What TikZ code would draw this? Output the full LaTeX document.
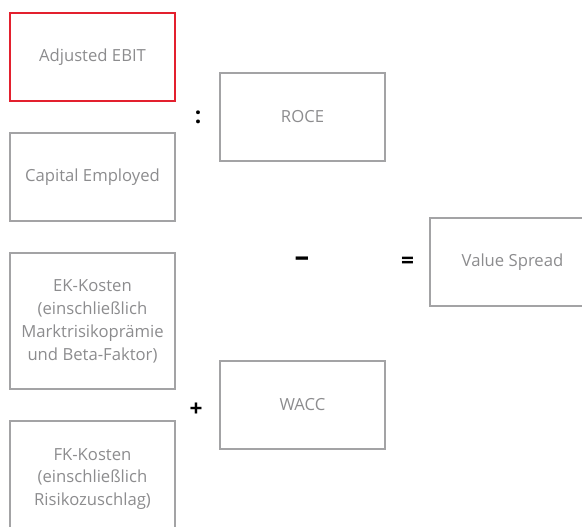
\documentclass[tikz,border=0pt]{standalone}
\usepackage{fontspec}
\setmainfont{Open Sans}
\usetikzlibrary{positioning,calc}
\definecolor{boxgrey}{HTML}{A3A3A5}
\definecolor{textgrey}{HTML}{8C8C8E}
\definecolor{keyred}{HTML}{E3202E}

\begin{document}
\begin{tikzpicture}[
    x=0.75pt, y=-0.75pt,
    node distance=24pt and 33.75pt,
    box/.style={rectangle, draw=boxgrey, line width=1.5pt, minimum width=123.75pt,
                minimum height=66pt, align=center, text=textgrey,
                font=\fontsize{12.5}{17.2}\selectfont, inner sep=2pt, outer sep=0pt},
    tallbox/.style={box, minimum height=102pt},
    op/.style={font=\fontsize{17}{17}\selectfont\bfseries, text=black, inner sep=0pt},
]
\useasboundingbox (0,0) rectangle (582,527);
\clip (0,0) rectangle (582,527);

% left column: the inputs
\node[box, draw=keyred] (ebit) at (92.5,57) {Adjusted EBIT};
\node[box, below=of ebit] (capital) {Capital Employed};
\node[tallbox, below=of capital] (ekcost) {EK-Kosten\\(einschließlich\\Marktrisikoprämie\\und Beta-Faktor)};
\node[box, below=of ekcost, minimum height=87pt] (fkcost) {FK-Kosten\\(einschließlich\\Risikozuschlag)};

% middle column: the two rates
\coordinate (roceref) at ($(ebit.south east)!0.5!(capital.north east)$);
\node[box, right=of roceref, anchor=west] (roce) {ROCE};
\coordinate (waccref) at ($(ekcost.south east)!0.5!(fkcost.north east)$);
\node[box, right=of waccref, anchor=west] (wacc) {WACC};

% right: the result
\node[box, anchor=west] (spread) at (430,262.5) {Value Spread};

% operators between the boxes
\node[op] (divide) at (198,117) {:};
\node[op] (plus) at (196,410) {+};
\node[op, font=\fontsize{22}{22}\selectfont\bfseries] (minus) at (302,262) {--};
\node[op] (equals) at (407.5,263) {=};

\end{tikzpicture}
\end{document}
